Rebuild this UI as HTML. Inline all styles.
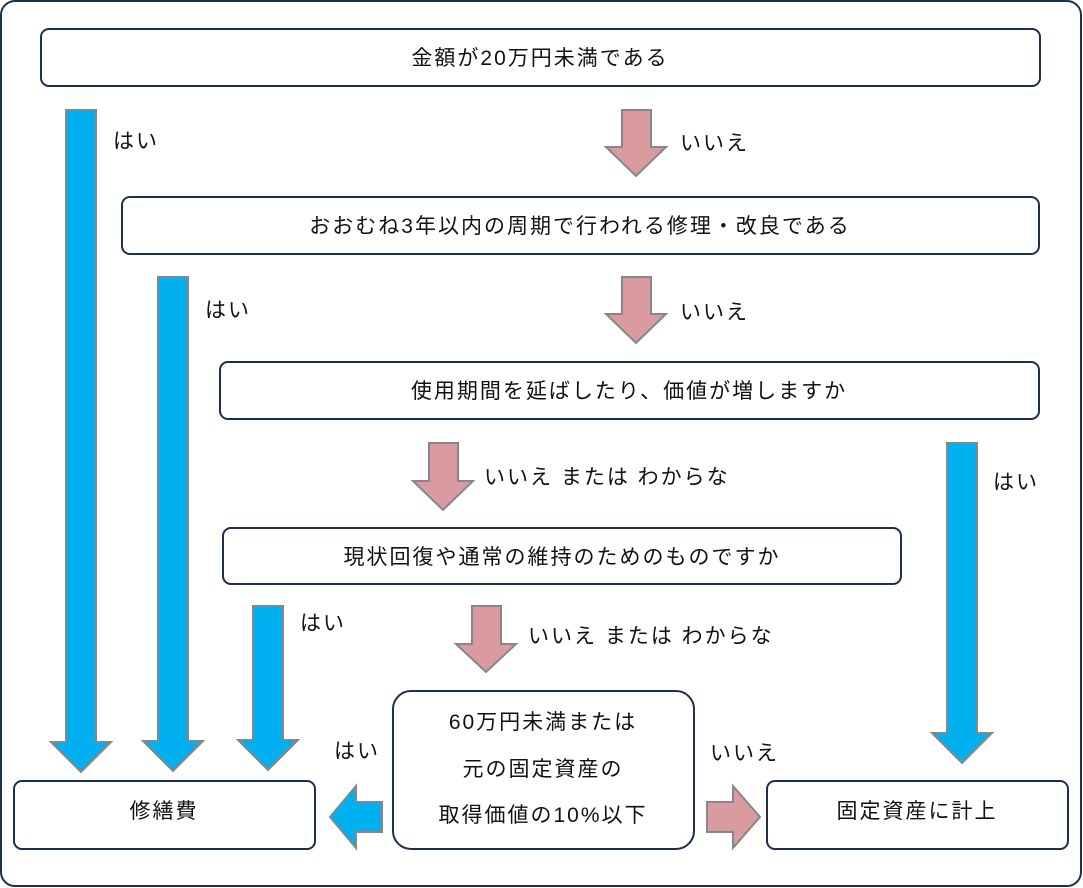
<!DOCTYPE html>
<html><head><meta charset="utf-8"><style>
html,body{margin:0;padding:0;background:#fff;}
svg{display:block;}
text{font-family:"Liberation Sans","Noto Sans CJK JP",sans-serif;font-size:21px;letter-spacing:2px;fill:#111;}
.b{fill:#fff;stroke:#1c2f4f;stroke-width:2;}
.bl{fill:#00b0f0;stroke:#878787;stroke-width:2;}
.pk{fill:#d99aa0;stroke:#878787;stroke-width:2;}
</style></head><body>
<svg width="1083" height="888" viewBox="0 0 1083 888">
<rect x="1" y="1" width="1080" height="885" rx="14" class="b"/>
<rect x="41" y="29" width="999" height="57" rx="8" class="b"/>
<text x="540" y="65" text-anchor="middle">金額が20万円未満である</text>
<rect x="122" y="197" width="917" height="57" rx="8" class="b"/>
<text x="580" y="233" text-anchor="middle">おおむね3年以内の周期で行われる修理・改良である</text>
<rect x="220" y="362" width="819" height="57" rx="8" class="b"/>
<text x="629" y="398" text-anchor="middle">使用期間を延ばしたり、価値が増しますか</text>
<rect x="223" y="528" width="678" height="56" rx="8" class="b"/>
<text x="562" y="564" text-anchor="middle">現状回復や通常の維持のためのものですか</text>
<rect x="393" y="691" width="301" height="158" rx="18" class="b"/>
<text x="543" y="729" text-anchor="middle">60万円未満または</text>
<text x="543" y="776" text-anchor="middle">元の固定資産の</text>
<text x="543" y="822" text-anchor="middle">取得価値の10%以下</text>
<rect x="14" y="781" width="301" height="68" rx="8" class="b"/>
<text x="164" y="818" text-anchor="middle">修繕費</text>
<rect x="767" y="781" width="301" height="68" rx="8" class="b"/>
<text x="917" y="818" text-anchor="middle">固定資産に計上</text>

<polygon class="bl" points="66,110 96,110 96,742 111,742 81,772 51,742 66,742"/>
<polygon class="bl" points="158,277 188,277 188,741 203,741 173,771 143,741 158,741"/>
<polygon class="bl" points="253,606 283,606 283,740 298,740 268,770 238,740 253,740"/>
<polygon class="bl" points="947,443 977,443 977,733 992,733 962,763 932,733 947,733"/>

<polygon class="pk" points="622,110 651,110 651,147 666,147 636,176 606,147 622,147"/>
<polygon class="pk" points="622,277 651,277 651,314 666,314 636,343 606,314 622,314"/>
<polygon class="pk" points="429,443 458,443 458,481 473,481 443,510 413,481 429,481"/>
<polygon class="pk" points="472,606 501,606 501,644 516,644 486,672 456,644 472,644"/>

<polygon class="bl" points="382,802 382,832 356,832 356,848 330,817 356,786 356,802"/>
<polygon class="pk" points="707,802 707,832 733,832 733,848 760,817 733,786 733,802"/>

<text x="113" y="148">はい</text>
<text x="205" y="317">はい</text>
<text x="300" y="630">はい</text>
<text x="993" y="489">はい</text>
<text x="334" y="758">はい</text>
<text x="680" y="150">いいえ</text>
<text x="680" y="319">いいえ</text>
<text x="710" y="760">いいえ</text>
<text x="484" y="484">いいえ または わからな</text>
<text x="528" y="643">いいえ または わからな</text>
</svg>
</body></html>
